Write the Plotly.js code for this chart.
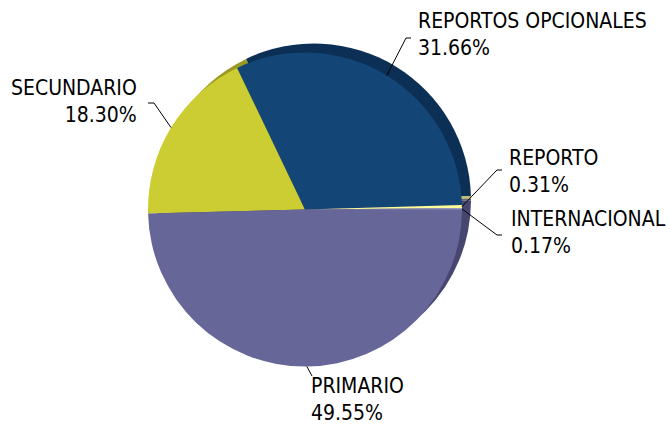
<!DOCTYPE html>
<html>
<head>
<meta charset="utf-8">
<script src="https://cdn.plot.ly/plotly-3.0.1.min.js"></script>
<style>html,body{margin:0;padding:0;background:#fff;}#chart{width:670px;height:427px;}</style>
</head>
<body>
<div id="chart"></div>
<script>
// ---- data ----
const categories = ["SECUNDARIO", "REPORTOS OPCIONALES", "REPORTO", "INTERNACIONAL", "PRIMARIO"];
const shares = [18.30, 31.66, 0.31, 0.17, 49.55];
const faceColors = ["#cccc33", "#134677", "#ffff99", "#9c9cc8", "#666699"];
const sideColors = ["#9a9a22", "#0c2f56", "#b8b870", "#5a5a80", "#46466e"];

// ---- layout constants (pixels) ----
const W = 670, H = 427;
const CX = 305, CY = 209.5, R = 157;
const DX = 9, DY = -9;        // offset of the 3-D side
const ROT = -91.5;
const FONT = {family: "DejaVu Sans Condensed, DejaVu Sans, sans-serif", size: 21, color: "#000"};

function dom(cx, cy) {
  return {x: [(cx - R) / W, (cx + R) / W], y: [(H - cy - R) / H, (H - cy + R) / H]};
}
const px = x => x / W, py = y => 1 - y / H;

const side = {type: "pie", labels: categories, values: shares, sort: false, direction: "clockwise",
  rotation: ROT, domain: dom(CX + DX, CY + DY), textinfo: "none", hoverinfo: "skip",
  marker: {colors: sideColors, line: {width: 0}}, showlegend: false};
const face = {type: "pie", labels: categories, values: shares, sort: false, direction: "clockwise",
  rotation: ROT, domain: dom(CX, CY), textinfo: "none",
  marker: {colors: faceColors, line: {width: 0}}, showlegend: false};

// label placement (pixels): elbow point, end of horizontal run, text anchor x, text centre y
const total = shares.reduce((a, b) => a + b, 0);
const labelLayout = {
  "SECUNDARIO":          {ex: 154, ey: 103, hx: 148, tx: 138, ty: 101, side: "right"},
  "REPORTOS OPCIONALES": {ex: 406, ey: 38,  hx: 411, tx: 417, ty: 35,  side: "left"},
  "REPORTO":             {ex: 497, ey: 170, hx: 502, tx: 508, ty: 171, side: "left"},
  "INTERNACIONAL":       {ex: 497, ey: 235, hx: 502, tx: 510, ty: 232, side: "left"},
  "PRIMARIO":            {ex: 312, ey: 376, hx: 312, tx: 310, ty: 399, side: "left"}
};

const shapes = [], annotations = [];
let cum = 0;
categories.forEach((c, i) => {
  const mid = (ROT + (cum + shares[i] / 2) / total * 360) * Math.PI / 180;
  cum += shares[i];
  const tipX = CX + R * Math.sin(mid), tipY = CY - R * Math.cos(mid);
  const L = labelLayout[c];
  shapes.push({type: "path", xref: "paper", yref: "paper",
    path: `M ${px(tipX)} ${py(tipY)} L ${px(L.ex)} ${py(L.ey)} L ${px(L.hx)} ${py(L.ey)}`,
    line: {color: "#000", width: 1}});
  const pct = (shares[i] / total * 100).toFixed(2) + "%";
  annotations.push({xref: "paper", yref: "paper", x: px(L.tx), y: py(L.ty),
    xanchor: L.side === "right" ? "right" : "left", yanchor: "middle",
    align: L.side === "right" ? "right" : "left", showarrow: false, borderpad: 0,
    text: c + "<br>" + pct, font: FONT});
});

const layout = {width: W, height: H, margin: {l: 0, r: 0, t: 0, b: 0},
  paper_bgcolor: "#fff", plot_bgcolor: "#fff", showlegend: false, shapes, annotations};

Plotly.newPlot("chart", [side, face], layout, {displayModeBar: false, staticPlot: true});
</script>
</body>
</html>
